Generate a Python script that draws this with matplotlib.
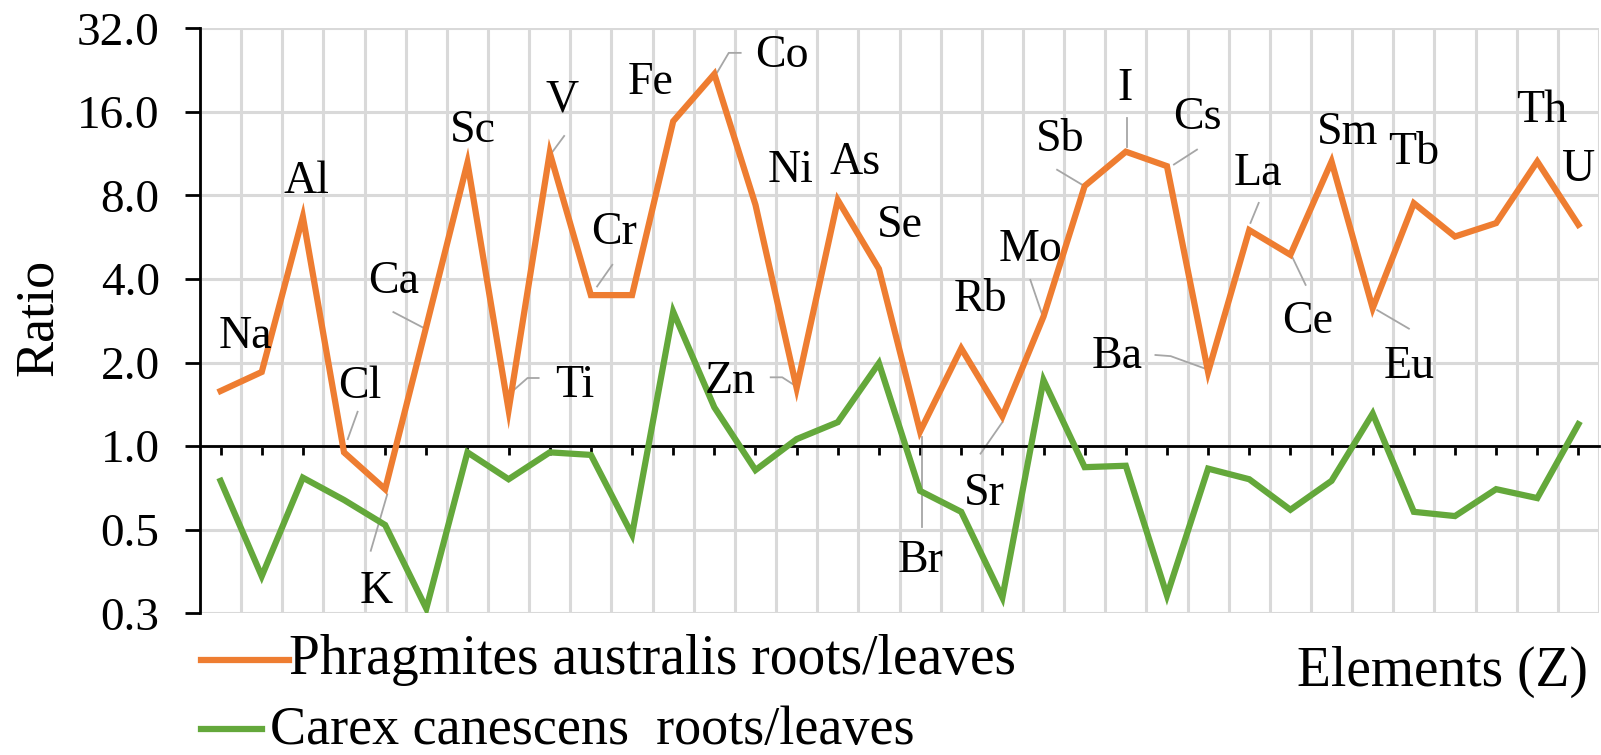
import matplotlib
matplotlib.use("Agg")
import matplotlib.pyplot as plt
import numpy as np
from matplotlib.lines import Line2D
from matplotlib.ticker import FixedLocator, NullLocator

plt.rcParams["font.family"] = ["Liberation Serif", "DejaVu Serif"]

# Verhaeltnis Wurzel/Blatt je Element (34 Positionen, 4 ohne Beschriftung)
elements = ["Na", "", "Al", "Cl", "K", "Ca", "Sc", "Ti", "V", "Cr", "", "Fe",
            "Co", "Ni", "Zn", "As", "Se", "Br", "Rb", "Sr", "Mo", "Sb", "I",
            "Cs", "Ba", "La", "Ce", "Sm", "Eu", "Tb", "", "", "Th", "U"]

phragmites = [1.58, 1.85, 6.7, 0.95, 0.70, 2.7, 10.5, 1.35, 11.4, 3.5, 3.5,
              14.8, 21.9, 7.4, 1.62, 7.7, 4.35, 1.13, 2.25, 1.28, 2.93, 8.65,
              11.5, 10.2, 1.85, 6.0, 4.89, 10.6, 3.14, 7.5, 5.69, 6.36, 10.6,
              6.27]

carex = [0.75, 0.34, 0.77, 0.64, 0.52, 0.26, 0.95, 0.76, 0.95, 0.93, 0.48,
         3.05, 1.38, 0.82, 1.06, 1.22, 1.99, 0.69, 0.58, 0.285, 1.73, 0.84,
         0.85, 0.29, 0.83, 0.76, 0.59, 0.75, 1.31, 0.58, 0.56, 0.70, 0.65,
         1.2]

y_ticks = [0.25, 0.5, 1, 2, 4, 8, 16, 32]
y_ticklabels = ["0.3", "0.5", "1.0", "2.0", "4.0", "8.0", "16.0", "32.0"]

ORANGE = "#EE7D31"
GREEN = "#64A83B"
GRID = "#D9D9D9"
LEADER = "#A6A6A6"

# Beschriftung: Element -> Textposition (x, y in Datenkoordinaten)
label_pos = {
    "Na": (0.61, 2.48), "Al": (2.09, 8.97), "Cl": (3.38, 1.64),
    "K": (3.79, 0.30), "Ca": (4.20, 3.92), "Sc": (6.12, 13.7),
    "Ti": (8.60, 1.65), "V": (8.29, 17.6), "Cr": (9.56, 5.86),
    "Fe": (10.45, 20.4), "Co": (13.65, 25.5), "Ni": (13.85, 9.78),
    "Zn": (12.39, 1.70), "As": (15.43, 10.48), "Se": (16.52, 6.22),
    "Br": (17.01, 0.386), "Rb": (18.47, 3.36), "Sr": (18.55, 0.673),
    "Mo": (19.68, 5.10), "Sb": (20.41, 12.73), "I": (21.98, 19.46),
    "Cs": (23.73, 15.24), "Ba": (21.79, 2.10), "La": (25.20, 9.59),
    "Ce": (26.41, 2.81), "Sm": (27.38, 13.45), "Eu": (28.88, 1.93),
    "Tb": (29.0, 11.4), "Th": (32.1, 16.2), "U": (33.0, 9.92),
}

# Fuehrungslinien (Polylinien in Datenkoordinaten)
leaders = {
    "Cl": [(3.33, 1.33), (3.09, 1.06)],
    "K": [(4.05, 0.67), (3.65, 0.42)],
    "Ca": [(4.20, 3.04), (4.95, 2.66)],
    "V": [(8.35, 13.1), (8.04, 11.35)],
    "Ti": [(7.73, 1.76), (7.46, 1.76), (7.12, 1.59)],
    "Cr": [(9.52, 4.50), (9.15, 3.76)],
    "Co": [(12.64, 26.1), (12.35, 26.1), (12.07, 22.2)],
    "Zn": [(13.37, 1.77), (13.65, 1.77), (13.97, 1.65)],
    "Br": [(17.05, 1.08), (17.05, 0.51)],
    "Sr": [(19.0, 1.22), (18.47, 0.94)],
    "Mo": [(19.68, 3.97), (19.97, 2.97)],
    "Sb": [(20.33, 9.9), (20.98, 8.67)],
    "I": [(22.03, 15.2), (22.03, 12.0)],
    "Cs": [(23.73, 11.7), (23.17, 10.34)],
    "Ba": [(22.72, 2.13), (23.09, 2.11), (23.94, 1.90)],
    "La": [(25.23, 7.52), (25.03, 6.37)],
    "Ce": [(26.04, 4.82), (26.37, 3.81)],
    "Eu": [(28.11, 3.09), (28.88, 2.65)],
}

fig = plt.figure(figsize=(16.01, 7.55), dpi=100)
ax = fig.add_axes([200 / 1601, 1 - 613.3 / 755, 1399 / 1601, 585 / 755])

x = np.arange(len(elements))
ax.plot(x, phragmites, color=ORANGE, lw=4.5, solid_joinstyle="miter", zorder=4)
ax.plot(x, carex, color=GREEN, lw=4.5, solid_joinstyle="miter", zorder=4)

ax.set_yscale("log", base=2)
ax.set_ylim(0.25, 32)
ax.set_xlim(-0.5, len(elements) - 0.5)
ax.yaxis.set_major_locator(FixedLocator(y_ticks))
ax.yaxis.set_minor_locator(NullLocator())
ax.set_yticklabels(y_ticklabels)

ax.set_xticks(x)
ax.set_xticks(np.arange(-0.5, len(elements), 1), minor=True)
ax.set_xticklabels([])

ax.grid(axis="y", which="major", color=GRID, lw=2.2, zorder=0)
ax.grid(axis="x", which="minor", color=GRID, lw=2.2, zorder=0)
ax.grid(axis="x", which="major", visible=False)

for s in ["top", "right"]:
    ax.spines[s].set_visible(False)
ax.spines["left"].set_linewidth(2)
ax.spines["bottom"].set_position(("data", 1.0))
ax.spines["bottom"].set_linewidth(2)
ax.spines["bottom"].set_zorder(3)

ax.tick_params(axis="y", which="major", direction="out", length=11, width=2,
               labelsize=34, pad=18)
ax.tick_params(axis="x", which="major", direction="out", length=6.5, width=2)
ax.tick_params(axis="x", which="minor", length=0)

ax.set_ylabel("Ratio", fontsize=39)
ax.yaxis.set_label_coords(-136 / 1399, 0.505)

for name, (lx, ly) in label_pos.items():
    ax.text(lx, ly, name, fontsize=33, ha="center", va="center", zorder=5)
for name, pts in leaders.items():
    xs, ys = zip(*pts)
    ax.plot(xs, ys, color=LEADER, lw=1.3, zorder=3)

# Legende unterhalb der Achse
fig.add_artist(Line2D([201 / 1601, 289 / 1601], [1 - 660 / 755, 1 - 660 / 755],
                      color=ORANGE, lw=4.5))
fig.text(289 / 1601, 1 - 674 / 755, "Phragmites australis roots/leaves",
         fontsize=40, va="baseline", ha="left")
fig.add_artist(Line2D([201 / 1601, 262 / 1601], [1 - 729 / 755, 1 - 729 / 755],
                      color=GREEN, lw=4.5))
fig.text(270 / 1601, 1 - 744 / 755, "Carex canescens  roots/leaves",
         fontsize=39, va="baseline", ha="left")
fig.text(1588 / 1601, 1 - 672 / 755, "Elements (Z)", fontsize=40,
         va="center", ha="right")

fig.savefig("out.png", dpi=100)
